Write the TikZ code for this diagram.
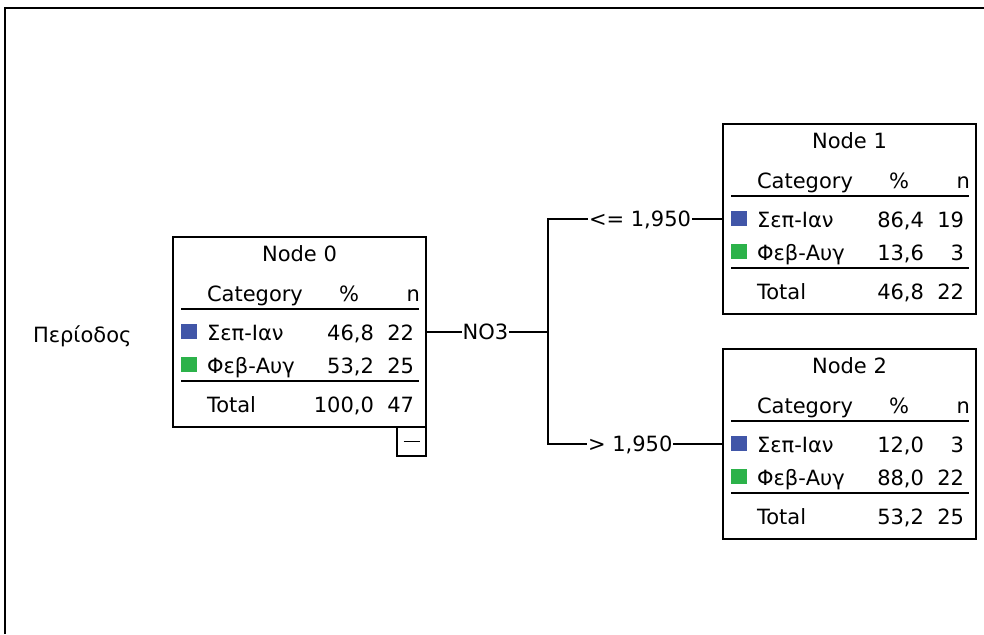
\documentclass[tikz,border=0pt]{standalone}
\usepackage{fontspec}
\setmainfont{DejaVu Sans}
\definecolor{catblue}{RGB}{65,86,168}
\definecolor{catgreen}{RGB}{44,178,74}
\tikzset{
  box/.style={draw=black, line width=1.7pt, fill=white, inner sep=0pt, outer sep=0pt},
  txt/.style={inner sep=0pt, outer sep=0pt, text height=15pt, text depth=0pt},
  rule/.style={line width=1.7pt},
  conn/.style={line width=1.7pt},
}
\newcommand\mytreenode[9]{%
  \begin{scope}[shift={(#2)}]
    \node[box, anchor=north west, minimum width=253pt, minimum height=190pt] (#1) at (0,0) {};
    \coordinate (#1-in) at (0,95);
    \coordinate (#1-out) at (253,95);
    \node[txt] (#1-t) at (126.5,17) {#3};
    \node[txt, anchor=west] (#1-c) at (34,57) {Category};
    \node[txt] (#1-pc) at (176,57) {\%};
    \node[txt, anchor=east] (#1-nh) at (247,57) {n};
    \draw[rule] (8,72) -- (246,72);
    \fill[catblue] (8,87) rectangle (24,102);
    \node[txt, anchor=west] (#1-a) at (34,96) {Σεπ-Ιαν};
    \node[txt, anchor=east] (#1-ap) at (201,96) {#4};
    \node[txt, anchor=east] (#1-an) at (241,96) {#5};
    \fill[catgreen] (8,120) rectangle (24,135);
    \node[txt, anchor=west] (#1-b) at (34,129) {Φεβ-Αυγ};
    \node[txt, anchor=east] (#1-bp) at (201,129) {#6};
    \node[txt, anchor=east] (#1-bn) at (241,129) {#7};
    \draw[rule] (8,144) -- (246,144);
    \node[txt, anchor=west] (#1-tot) at (34,168) {Total};
    \node[txt, anchor=east] (#1-tp) at (201,168) {#8};
    \node[txt, anchor=east] (#1-tn) at (241,168) {#9};
  \end{scope}%
}
\begin{document}
\begin{tikzpicture}[x=1pt, y=-1pt, font=\fontsize{21}{25}\selectfont]
  \useasboundingbox (0,0) rectangle (984,634);
  \fill[white] (0,0) rectangle (984,634);
  % frame
  \draw[line width=1.8pt] (5,634) -- (5,8) -- (984,8);
  % target label
  \node[txt, anchor=west] (target) at (33,335) {Περίοδος};
  % nodes
  \mytreenode{n0}{173,237}{Node 0}{46,8}{22}{53,2}{25}{100,0}{47}
  \mytreenode{n1}{723,124}{Node 1}{86,4}{19}{13,6}{3}{46,8}{22}
  \mytreenode{n2}{723,349}{Node 2}{12,0}{3}{88,0}{22}{53,2}{25}
  % collapse box
  \node[box, anchor=north east, minimum width=29pt, minimum height=29pt] (n0-minus) at (n0.south east) {};
  \draw[line width=1.8pt] ([xshift=-8pt]n0-minus.center) -- ([xshift=8pt]n0-minus.center);
  % connectors
  \node[txt, inner xsep=1pt] (no3) at (485.5,332) {NO3};
  \coordinate (fork) at (548,332);
  \node[txt, anchor=west, inner xsep=1pt] (le) at (588,219) {<= 1,950};
  \node[txt, anchor=west, inner xsep=1pt] (gt) at (587,444) {> 1,950};
  \draw[conn] (n0-out) -- (no3.west);
  \draw[conn] (no3.east) -- (fork);
  \draw[conn] (fork) |- (le.west);
  \draw[conn] (le.east) -- (n1-in);
  \draw[conn] (fork) |- (gt.west);
  \draw[conn] (gt.east) -- (n2-in);
\end{tikzpicture}
\end{document}
